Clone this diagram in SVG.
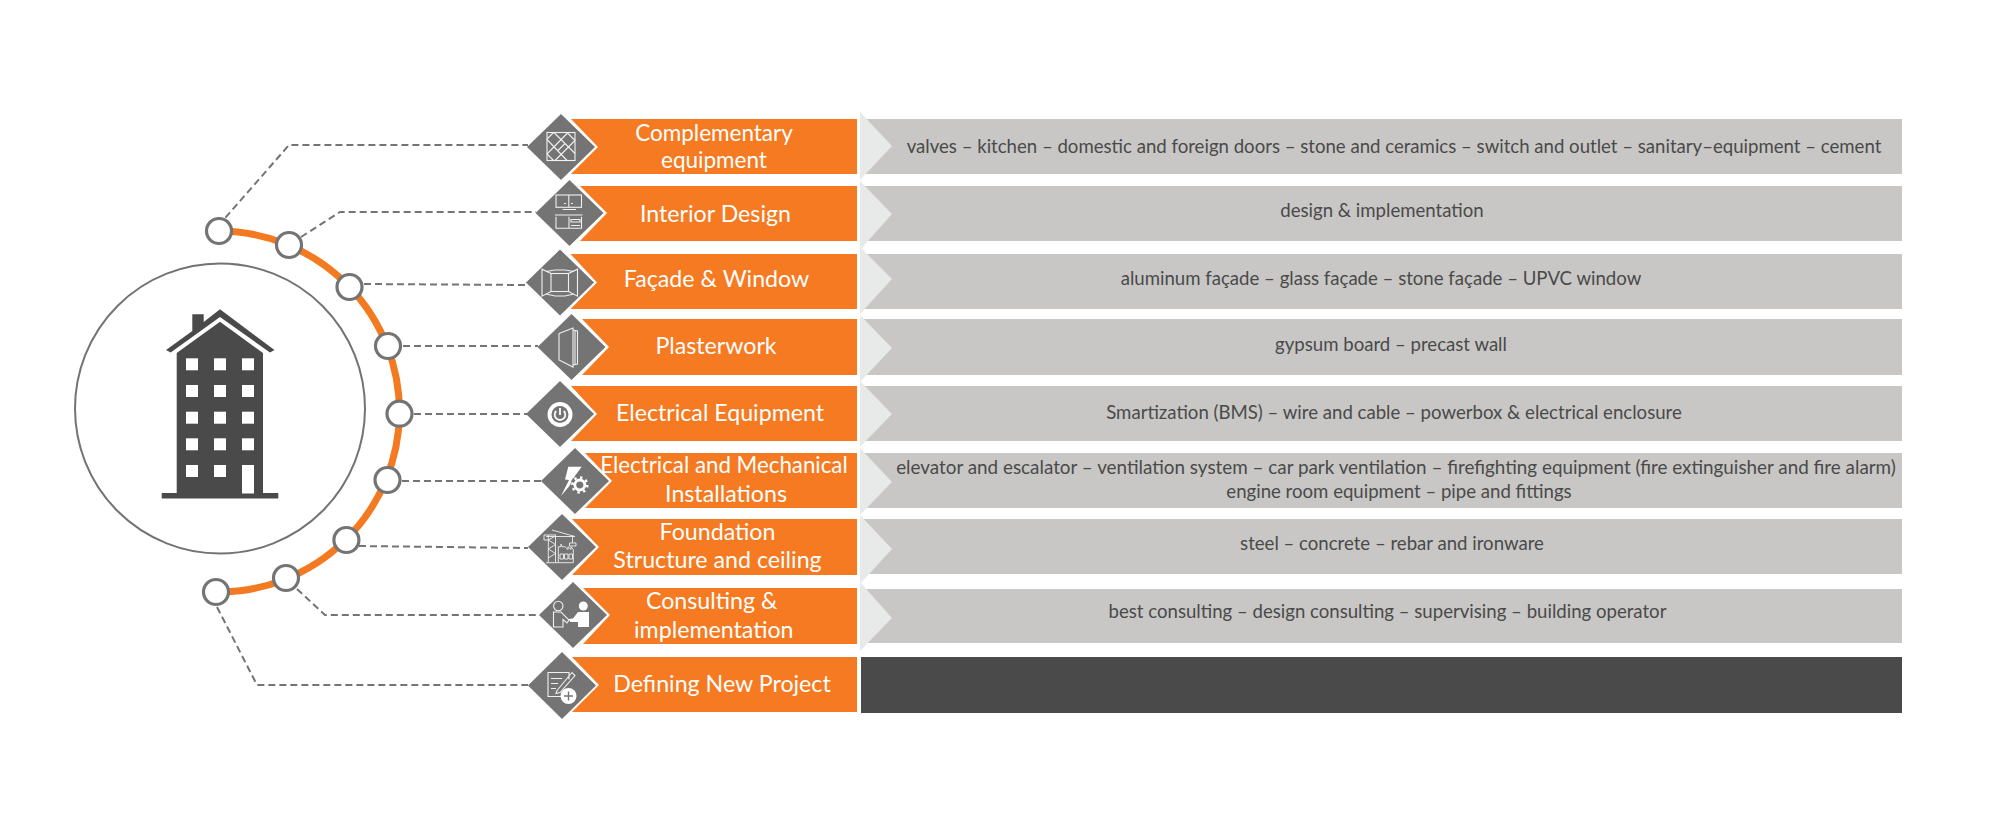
<svg xmlns="http://www.w3.org/2000/svg" width="2000" height="819" viewBox="0 0 2000 819">
<style>
text{font-family:Lato,"Liberation Sans",sans-serif}
.l{fill:#fff;font-size:23.2px;text-anchor:middle}
.d{fill:#4a4a4a;font-size:18.6px;text-anchor:middle}
.o{fill:#f57a21}
.g{fill:#c8c7c5}
.c{fill:#e8e9e9}
.m{fill:#737473}
.i{fill:none;stroke:#f0f0f0;stroke-width:1.1}
.f{fill:#fff}
.x{fill:none;stroke:#737473;stroke-width:2;stroke-dasharray:7 4}
.n{fill:#fff;stroke:#737473;stroke-width:3.2}
.b{fill:#4a4a4a}
.w{fill:#fff}
</style>
<g id="hub">
<circle cx="220" cy="408.5" r="145" fill="#fff" stroke="#737373" stroke-width="2"/>
<g id="building">
<rect class="b" x="161.7" y="493" width="116.6" height="5.5"/>
<path class="b" d="M176.700 353L220 321.700L263 353V494H176.700Z"/>
<path class="b" d="M192.300 314.300H203.700V322L220 309.300L274.500 350L270 352.500L220 317L170.700 352.500L166 350L192.300 331Z"/>
<g class="w">
<rect x="186" y="358.300" width="12" height="12"/><rect x="214" y="358.300" width="12" height="12"/><rect x="242" y="358.300" width="12" height="12"/>
<rect x="186" y="385" width="12" height="12"/><rect x="214" y="385" width="12" height="12"/><rect x="242" y="385" width="12" height="12"/>
<rect x="186" y="411.700" width="12" height="12"/><rect x="214" y="411.700" width="12" height="12"/><rect x="242" y="411.700" width="12" height="12"/>
<rect x="186" y="438.300" width="12" height="12"/><rect x="214" y="438.300" width="12" height="12"/><rect x="242" y="438.300" width="12" height="12"/>
<rect x="186" y="465" width="12" height="12"/><rect x="214" y="465" width="12" height="12"/><rect x="242" y="465" width="12" height="28.500"/>
</g>
</g>
</g>
<g id="connectors">
<path d="M219 231A181 181 0 0 1 399.500 413A181 181 0 0 1 216 592" fill="none" stroke="#f47a21" stroke-width="7"/>
<path class="x" d="M225.400 217.700L289 145H528"/>
<path class="x" d="M301 237L340 212H536"/>
<path class="x" d="M364 284L527 285"/>
<path class="x" d="M403 346H538"/>
<path class="x" d="M414 414H527"/>
<path class="x" d="M402 481H541"/>
<path class="x" d="M359 546L528 548"/>
<path class="x" d="M297 589L325 615H539"/>
<path class="x" d="M217 607L257 685H528"/>
<circle class="n" cx="219" cy="231" r="12.500"/>
<circle class="n" cx="289" cy="245" r="12.500"/>
<circle class="n" cx="349.500" cy="287" r="12.500"/>
<circle class="n" cx="388" cy="346" r="12.500"/>
<circle class="n" cx="399.500" cy="413.700" r="12.500"/>
<circle class="n" cx="387.500" cy="480" r="12.500"/>
<circle class="n" cx="346.400" cy="540" r="12.500"/>
<circle class="n" cx="286" cy="578" r="12.500"/>
<circle class="n" cx="216" cy="592" r="12.500"/>
</g>
<g id="node-complementary">
<path class="o" d="M571 119H857V174H571L598 147Z"/>
<rect class="g" x="862" y="119" width="1040" height="55"/>
<path class="c" d="M860 112L892 146L860 180Z"/>
<path class="m" d="M561 114L595 147L561 180L527 147Z"/>
<g class="i" transform="translate(561 147)"><rect x="-14" y="-14.500" width="28" height="28"/><path d="M-14 -8L-7.500 -14.500M-14 7L7 -14.500M-6 13.500L14 -6.500M-14 -7.500L6 13.500M-7 -14.500L14 6.500M6 -14.500L14 -6.500M-14 7L-7.500 13.500M-3 3.500L4 -3.500"/></g>
<text class="l" style="font-size:22.500px" x="714" y="141">Complementary</text>
<text class="l" style="font-size:22.500px" x="714" y="168">equipment</text>
<text class="d" x="1394" y="153">valves – kitchen – domestic and foreign doors – stone and ceramics – switch and outlet – sanitary–equipment – cement</text>
</g>
<g id="node-interior">
<path class="o" d="M580 186H857V241H580L607 213Z"/>
<rect class="g" x="862" y="186" width="1040" height="55"/>
<path class="c" d="M860 181L892 214L860 250Z"/>
<path class="m" d="M569.500 180L603.500 213L569.500 246L535.500 213Z"/>
<g class="i" transform="translate(569.500 213)"><rect x="-13.500" y="-18" width="25.500" height="12.300"/><path d="M-0.700 -18V-5.700M-7 -3.500H6.500M-14.500 2H13M-13.500 3.700V15.300H12V3.700M-0.500 3.700V15.300M1.500 6.500H10.500V9H1.500ZM1.500 12.500H10.500M-5.500 -9.500H-3.500M1.500 -9.500H3.500"/></g>
<text class="l" x="715.500" y="222">Interior Design</text>
<text class="d" x="1382" y="217">design &amp; implementation</text>
</g>
<g id="node-facade">
<path class="o" d="M570.500 254H857V309H570.500L597 282.500Z"/>
<rect class="g" x="862" y="254" width="1040" height="55"/>
<path class="c" d="M860 247L892 279L860 314Z"/>
<path class="m" d="M560 249.500L594 282.500L560 315.500L526 282.500Z"/>
<g class="i" transform="translate(560 282.500)"><rect x="-9" y="-9" width="17.500" height="18"/><path d="M-9 -9L-18 -13.300V13.700L-9 9M8.500 -9L17.500 -13.300V13.700L8.500 9M-9 -9H8.500M-14 -11L-5 -12.500H5L14 -11M-14 11.500L-5 13.500H5L14 11.500"/></g>
<text class="l" x="716.500" y="287">Façade &amp; Window</text>
<text class="d" x="1381" y="285">aluminum façade – glass façade – stone façade – UPVC window</text>
</g>
<g id="node-plasterwork">
<path class="o" d="M582 319H857V375H582L609 347Z"/>
<rect class="g" x="862" y="319" width="1040" height="56"/>
<path class="c" d="M860 315L892 348L860 382Z"/>
<path class="m" d="M571.500 314L605.500 347L571.500 380L537.500 347Z"/>
<g class="i" transform="translate(571.500 347)"><path d="M-12.500 -13.500L1.500 -19V20L-12.500 13ZM1.500 -17L6 -16V17L1.500 18M3.500 -16.500V17.500"/></g>
<text class="l" x="716" y="354">Plasterwork</text>
<text class="d" x="1391" y="351">gypsum board – precast wall</text>
</g>
<g id="node-electrical">
<path class="o" d="M571 386H857V441H571L597 414Z"/>
<rect class="g" x="862" y="386" width="1040" height="55"/>
<path class="c" d="M860 381L892 414L860 447Z"/>
<path class="m" d="M560 381L594 414L560 447L526 414Z"/>
<g transform="translate(560 414.500)"><circle class="f" r="12.500"/><circle class="m" r="8.500"/><path d="M-3.800 -3.500A5.300 5.300 0 1 0 3.800 -3.500M0 -6.500V0.500" fill="none" stroke="#fff" stroke-width="1.800"/></g>
<text class="l" x="720" y="421">Electrical Equipment</text>
<text class="d" x="1394" y="419">Smartization (BMS) – wire and cable – powerbox &amp; electrical enclosure</text>
</g>
<g id="node-mechanical">
<path class="o" d="M585 453H857V508H585L612 481Z"/>
<rect class="g" x="862" y="453" width="1040" height="55"/>
<path class="c" d="M860 448L892 482L860 515Z"/>
<path class="m" d="M575 448L609 481L575 514L541 481Z"/>
<g transform="translate(575 481)"><path class="f" d="M-6.700 -14.300H6.700L-0.700 -4.300L1.700 -3.700L-14 15L-6 -1L-10 -1.500Z"/><circle cx="4.800" cy="4" r="9.500" class="m"/><circle cx="4.800" cy="4" r="5" fill="none" stroke="#fff" stroke-width="2.800"/><circle cx="4.800" cy="4" r="7.500" fill="none" stroke="#fff" stroke-width="2.500" stroke-dasharray="2.400 3.490"/></g>
<text class="l" style="font-size:22.300px" x="724" y="473">Electrical and Mechanical</text>
<text class="l" x="726" y="502">Installations</text>
<text class="d" style="font-size:18.850px" x="1396" y="474">elevator and escalator – ventilation system – car park ventilation – firefighting equipment (fire extinguisher and fire alarm)</text>
<text class="d" x="1399" y="498">engine room equipment – pipe and fittings</text>
</g>
<g id="node-foundation">
<path class="o" d="M572 519H857V575H572L599 547Z"/>
<rect class="g" x="862" y="519" width="1040" height="55"/>
<path class="c" d="M860 515L892 549L860 584Z"/>
<path class="m" d="M562 514L596 547L562 580L528 547Z"/>
<g class="i" style="stroke-width:.9" transform="translate(562 547)"><path d="M-13.700 15.700V-12M-6.500 15.700V-12M-16 15.700H-4M-13.700 11L-6.500 6.500L-13.700 2L-6.500 -2.500L-13.700 -7L-6.500 -11M-18 -12V-7H-14M-18 -12H-6M-10 -17L13 -10.500H-16M10.500 -10.500V-4M7.500 -4H14V-1H7.500ZM-3.700 15.700V-0.300H-1V-3L0 -0.300H3L6 2.500V-0.300L9 2.500V-0.300L11.300 2.500V15.700ZM-2 7H1.500V12H-2ZM2.500 7H6V12H2.500ZM7 7H10.500V12H7Z"/></g>
<text class="l" x="717.500" y="540">Foundation</text>
<text class="l" x="717.500" y="568">Structure and ceiling</text>
<text class="d" x="1392" y="550">steel – concrete – rebar and ironware</text>
</g>
<g id="node-consulting">
<path class="o" d="M583 588H857V644H583L610 615Z"/>
<rect class="g" x="862" y="589" width="1040" height="54"/>
<path class="c" d="M860 582L892 618L860 651Z"/>
<path class="m" d="M573 582L607 615L573 648L539 615Z"/>
<g transform="translate(573 615)"><circle class="i" cx="-14.700" cy="-9" r="4.700"/><path class="i" d="M-19.500 -3H-12L-4 5L-6 8L-10 4.500V12H-19.500Z"/><circle class="f" cx="10.300" cy="-9" r="4.500"/><path class="f" d="M5 -3H16V12H5V7H-2.500L-4.500 4L0 3.500Z"/></g>
<text class="l" x="711.700" y="609">Consulting &amp;</text>
<text class="l" x="713.800" y="638">implementation</text>
<text class="d" x="1387.500" y="618">best consulting – design consulting – supervising – building operator</text>
</g>
<g id="node-defining">
<path class="o" d="M572 657H857V712H572L599 685Z"/>
<rect x="861" y="657" width="1041" height="56" fill="#4a4a4a"/>
<path class="m" d="M562 652L596 685.500L562 719L528 685.500Z"/>
<g transform="translate(562 685.500)"><path class="i" d="M7 -6V-13H-14V11H3M-11 -7H0M-11 -2H-4M-11 3H-6M-5 5L10 -13L13 -10L-2 7L-6 8Z"/><circle class="f" cx="6.500" cy="10.500" r="8"/><path d="M2 10.500H11M6.500 6V15" stroke="#737473" stroke-width="1.400"/></g>
<text class="l" x="722" y="692">Defining New Project</text>
</g>
</svg>
